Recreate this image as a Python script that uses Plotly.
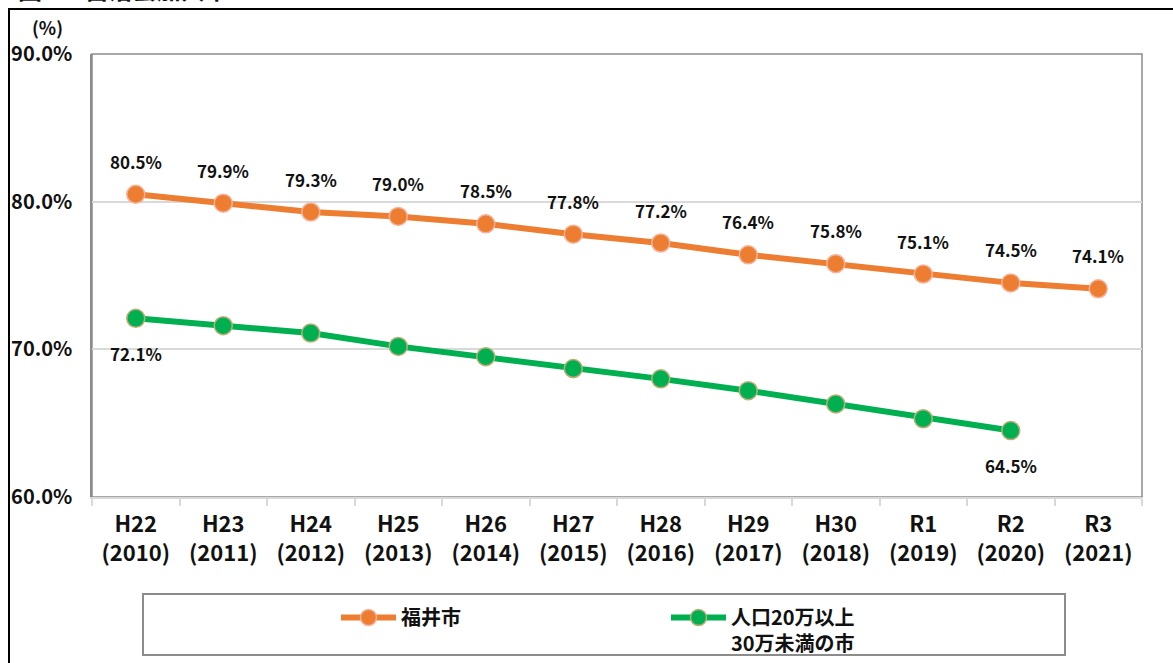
import plotly.graph_objects as go

# Categories (era / western year)
eras = ["H22", "H23", "H24", "H25", "H26", "H27", "H28", "H29", "H30", "R1", "R2", "R3"]
years = ["2010", "2011", "2012", "2013", "2014", "2015", "2016", "2017", "2018", "2019", "2020", "2021"]

# Membership rate (%)
fukui = [80.5, 79.9, 79.3, 79.0, 78.5, 77.8, 77.2, 76.4, 75.8, 75.1, 74.5, 74.1]
mid_cities = [72.1, 71.6, 71.1, 70.2, 69.5, 68.7, 68.0, 67.2, 66.3, 65.3, 64.5]

# Which points carry a value label
fukui_labeled = list(range(len(fukui)))
mid_labeled = [0, len(mid_cities) - 1]

series_names = ["福井市", "人口20万以上<br>30万未満の市"]

ORANGE = "#ED7D31"
GREEN = "#00B050"
JP = "Noto Sans CJK JP"

W, H = 1173, 663
L, R, T, B = 92, 31, 54, 166
PW, PH = W - L - R, H - T - B


def px(x):
    return (x - L) / PW


def py(y):
    return (H - B - y) / PH


cats = [f"{e}<br>({y})" for e, y in zip(eras, years)]

fig = go.Figure()
fig.add_trace(go.Scatter(
    x=cats, y=fukui, name=series_names[0], mode="lines+markers",
    line=dict(color=ORANGE, width=6),
    marker=dict(size=18, color=ORANGE, line=dict(color="#F6B39C", width=1.5)),
))
fig.add_trace(go.Scatter(
    x=cats[:len(mid_cities)], y=mid_cities, name=series_names[1], mode="lines+markers",
    line=dict(color=GREEN, width=6),
    marker=dict(size=18, color=GREEN, line=dict(color="#BDAE78", width=1.5)),
))

annotations = []
for i in fukui_labeled:
    annotations.append(dict(x=cats[i], y=fukui[i], text=f"{fukui[i]:.1f}%", showarrow=False,
                            yshift=33, font=dict(family=JP, size=17, color="#111", weight="bold")))
for i in mid_labeled:
    annotations.append(dict(x=cats[i], y=mid_cities[i], text=f"{mid_cities[i]:.1f}%", showarrow=False,
                            yshift=-35, font=dict(family=JP, size=17, color="#111", weight="bold")))

# unit label
annotations.append(dict(xref="paper", yref="paper", x=px(47), y=py(27), text="(%)", showarrow=False,
                        xanchor="center", yanchor="middle",
                        font=dict(family=JP, size=18, color="#111", weight="bold")))
# figure caption (runs off the top edge)
annotations.append(dict(xref="paper", yref="paper", x=px(16), y=py(-11), text="図1-5 自治会加入率",
                        showarrow=False, xanchor="left", yanchor="middle",
                        font=dict(family=JP, size=24, color="#111", weight="bold")))

shapes = [
    # plot area frame
    dict(type="rect", xref="paper", yref="paper", x0=0, x1=1, y0=0, y1=1,
         line=dict(color="#8C8C8C", width=1.5), layer="below"),
    # outer frame (top and left edges)
    dict(type="line", xref="paper", yref="paper", x0=px(8), x1=px(W + 5), y0=py(9), y1=py(9),
         line=dict(color="#000", width=2)),
    dict(type="line", xref="paper", yref="paper", x0=px(9), x1=px(9), y0=py(9), y1=py(H + 5),
         line=dict(color="#000", width=2)),
    # legend box
    dict(type="rect", xref="paper", yref="paper", x0=px(143), x1=px(1065), y0=py(594), y1=py(655),
         line=dict(color="#8C8C8C", width=2)),
]

fig.update_layout(
    width=W, height=H,
    margin=dict(l=L, r=R, t=T, b=B, pad=0, autoexpand=False),
    paper_bgcolor="white", plot_bgcolor="white",
    showlegend=True,
    legend=dict(orientation="h", x=px(336), y=py(598), xanchor="left", yanchor="top",
                bgcolor="rgba(0,0,0,0)", borderwidth=0, itemwidth=55, valign="top",
                entrywidth=260, tracegroupgap=0,
                font=dict(family=JP, size=20, color="#111", weight="bold")),
    annotations=annotations,
    shapes=shapes,
    xaxis=dict(
        type="category", range=[-0.5, len(cats) - 0.5], automargin=False,
        showgrid=False, showline=True, linecolor="#D9D9D9", linewidth=2,
        ticks="outside", tickson="boundaries", ticklen=7, tickcolor="#D9D9D9", tickwidth=1.5,
        ticklabelstandoff=7,
        tickfont=dict(family=JP, size=22, color="#111", weight="bold"),
    ),
    yaxis=dict(
        range=[60, 90], dtick=10, tickformat=".1f", ticksuffix="%", automargin=False,
        showgrid=True, gridcolor="#D9D9D9", gridwidth=1.5,
        showline=True, linecolor="#8C8C8C", linewidth=1.5,
        zeroline=False, ticks="", ticklabelstandoff=14,
        tickfont=dict(family=JP, size=20, color="#111", weight="bold"),
    ),
)

fig.write_html("out.html")
